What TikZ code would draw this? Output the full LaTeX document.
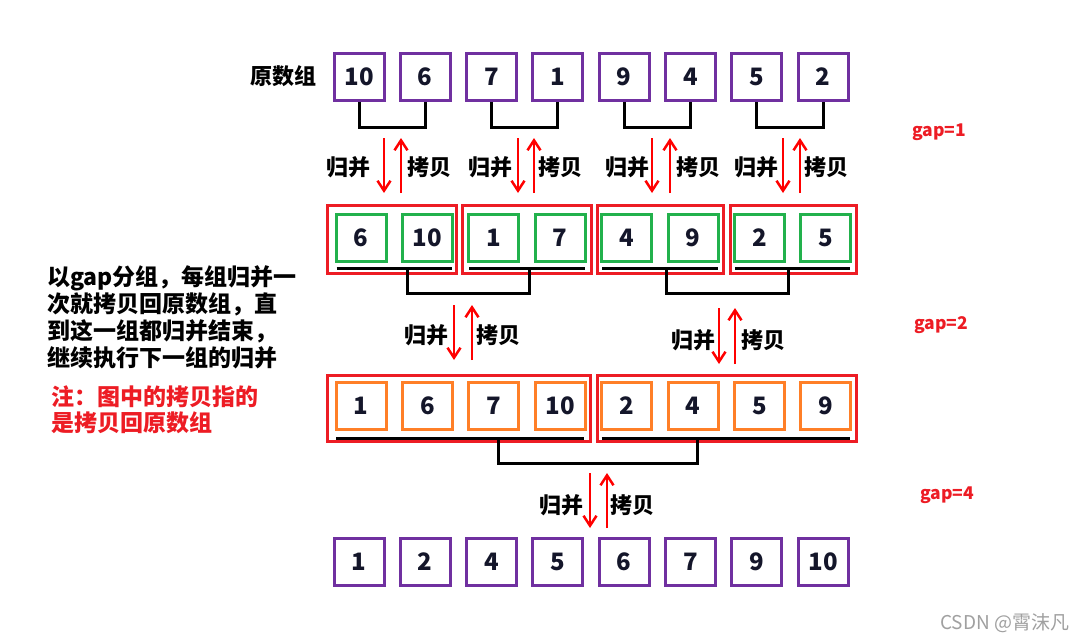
\documentclass[tikz,border=0pt]{standalone}
\usepackage{fontspec}
\setmainfont{Noto Sans CJK SC}
\usetikzlibrary{arrows.meta,calc}
\definecolor{boxpurple}{HTML}{7030A0}
\definecolor{boxgreen}{HTML}{22B14C}
\definecolor{boxorange}{HTML}{FF7F27}
\definecolor{grpred}{HTML}{ED1C24}
\definecolor{arrred}{HTML}{FF0000}
\definecolor{numcol}{HTML}{14162A}
\definecolor{wmgray}{HTML}{A0A0A0}
\begin{document}
\begin{tikzpicture}[x=1pt,y=-1pt,
  numbox/.style={draw, line width=3pt, minimum width=50pt, minimum height=47pt, inner sep=0pt, text=numcol, font=\fontsize{24}{24}\selectfont\bfseries},
  grp/.style={draw=grpred, line width=3pt},
  bar/.style={line width=3pt, black},
  redarr/.style={arrred, line width=2.5pt, -{Straight Barb[length=10pt,width=13pt,line width=2.5pt]}},
  lbl/.style={font=\fontsize{22}{22}\selectfont\bfseries, inner sep=0pt},
  gaplbl/.style={text=grpred, font=\fontsize{17.5}{17.5}\selectfont\bfseries, inner sep=0pt, anchor=west},
]
\useasboundingbox (0,0) rectangle (1086,643);
\fill[white] (0,0) rectangle (1086,643);

% rows of boxes
\foreach \v [count=\i from 0] in {10,6,7,1,9,4,5,2}
  \node[numbox, draw=boxpurple] (a\i) at ({359+66.3*\i},77) {\v};
\foreach \v [count=\i from 0] in {6,10,1,7,4,9,2,5}
  \node[numbox, draw=boxgreen] (b\i) at ({361+66.4*\i},238) {\v};
\foreach \v [count=\i from 0] in {1,6,7,10,2,4,5,9}
  \node[numbox, draw=boxorange] (c\i) at ({361+66.4*\i},405.5) {\v};
\foreach \v [count=\i from 0] in {1,2,4,5,6,7,9,10}
  \node[numbox, draw=boxpurple] (d\i) at ({359+66.3*\i},562) {\v};

% label of the original array
\node[lbl, anchor=east] (orig) at (317,76) {原数组};

% brackets under row 1
\foreach \p in {0,1,2,3}{
  \pgfmathtruncatemacro\l{2*\p}
  \pgfmathtruncatemacro\r{2*\p+1}
  \draw[bar] (a\l.south) -- ++(0,25.5) -| (a\r.south);
}

% red group frames, row 2
\draw[grp] (327.5,205.5) rectangle (456.5,273.5);
\draw[grp] (462.5,205.5) rectangle (591.5,273.5);
\draw[grp] (597.5,205.5) rectangle (723.5,273.5);
\draw[grp] (730.5,205.5) rectangle (856.5,273.5);
% underlines, row 2
\foreach \p in {0,1,2,3}{
  \pgfmathtruncatemacro\l{2*\p}
  \pgfmathtruncatemacro\r{2*\p+1}
  \draw[bar] ($(b\l)+(-24.5,30)$) -- ($(b\r)+(24.5,30)$);
}
% brackets under row 2
\draw[bar] (407,268) -- (407,293) -| (529,268);
\draw[bar] (666,268) -- (666,293) -| (788,268);

% red group frames, row 3
\draw[grp] (327.5,375.5) rectangle (590.5,441.5);
\draw[grp] (597.5,375.5) rectangle (856.5,441.5);
% underlines, row 3
\draw[bar] ($(c0)+(-25,32.5)$) -- ($(c3)+(24,32.5)$);
\draw[bar] ($(c4)+(-25,32.5)$) -- ($(c7)+(24,32.5)$);
% bracket under row 3
\draw[bar] (498,438) -- (498,463) -| (697,438);

% arrows and labels, gap=1
\foreach \dx/\ux/\lx/\rx [count=\k] in {384/401/371/407, 518/534/513/538, 652/670/650/676, 783/800/779/804}{
  \coordinate (m\k t) at (\dx,138); \coordinate (m\k b) at (\dx,193);
  \coordinate (k\k b) at (\ux,193); \coordinate (k\k t) at (\ux,138);
  \draw[redarr] (m\k t) -- (m\k b);
  \draw[redarr] (k\k b) -- (k\k t);
  \node[lbl, anchor=east] (ml\k) at (\lx,167) {归并};
  \node[lbl, anchor=west] (kl\k) at (\rx,167) {拷贝};
}

% arrows and labels, gap=2
\coordinate (n1t) at (454,305); \coordinate (n1b) at (454,360);
\coordinate (j1b) at (472,360); \coordinate (j1t) at (472,305);
\draw[redarr] (n1t) -- (n1b);
\draw[redarr] (j1b) -- (j1t);
\node[lbl, anchor=east] (nl1) at (449,335) {归并};
\node[lbl, anchor=west] (jl1) at (476,335) {拷贝};

\coordinate (n2t) at (719,308); \coordinate (n2b) at (719,364);
\coordinate (j2b) at (735,364); \coordinate (j2t) at (735,308);
\draw[redarr] (n2t) -- (n2b);
\draw[redarr] (j2b) -- (j2t);
\node[lbl, anchor=east] (nl2) at (716,340) {归并};
\node[lbl, anchor=west] (jl2) at (741,340) {拷贝};

% arrows and labels, gap=4
\coordinate (n3t) at (590,473); \coordinate (n3b) at (590,528);
\coordinate (j3b) at (607,528); \coordinate (j3t) at (607,473);
\draw[redarr] (n3t) -- (n3b);
\draw[redarr] (j3b) -- (j3t);
\node[lbl, anchor=east] (nl3) at (584,505) {归并};
\node[lbl, anchor=west] (jl3) at (610,505) {拷贝};

% gap labels
\node[gaplbl] (g1) at (912,132) {gap=1};
\node[gaplbl] (g2) at (914,325) {gap=2};
\node[gaplbl] (g4) at (920,495) {gap=4};

% explanation text
\node[anchor=west, align=left, inner sep=0pt, font=\fontsize{23}{27}\selectfont\bfseries] (expl) at (47,317.5)
  {以gap分组，每组归并一\\次就拷贝回原数组，直\\到这一组都归并结束，\\继续执行下一组的归并};
\node[anchor=west, align=left, inner sep=0pt, text=grpred, font=\fontsize{23}{26}\selectfont\bfseries] (note) at (51,410)
  {注：图中的拷贝指的\\是拷贝回原数组};

% watermark
\node[anchor=west, inner sep=0pt, text=wmgray, font=\fontsize{19}{19}\selectfont] (wm) at (940,623) {CSDN @霄沫凡};
\end{tikzpicture}
\end{document}
